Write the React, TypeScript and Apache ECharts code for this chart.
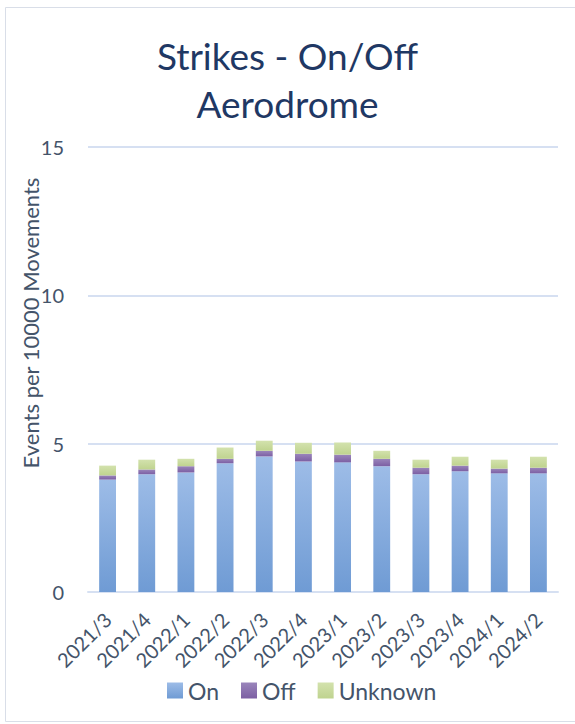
import React, { useEffect, useRef } from "react";
import * as echarts from "echarts";

const categories = ["2021/3", "2021/4", "2022/1", "2022/2", "2022/3", "2022/4", "2023/1", "2023/2", "2023/3", "2023/4", "2024/1", "2024/2"];
const onValues = [3.79, 3.97, 4.03, 4.34, 4.57, 4.40, 4.37, 4.24, 3.97, 4.07, 4.00, 4.00];
const offValues = [0.14, 0.16, 0.21, 0.15, 0.19, 0.26, 0.26, 0.25, 0.22, 0.19, 0.16, 0.19];
const unknownValues = [0.33, 0.33, 0.25, 0.38, 0.34, 0.37, 0.41, 0.27, 0.27, 0.30, 0.30, 0.37];
const seriesNames = ["On", "Off", "Unknown"];

const FONT = "Lato, 'Open Sans', sans-serif";

function grad(top: string, bottom: string) {
  return new echarts.graphic.LinearGradient(0, 0, 0, 1, [
    { offset: 0, color: top },
    { offset: 1, color: bottom },
  ]);
}

export default function App() {
  const ref = useRef<HTMLDivElement>(null);
  useEffect(() => {
    document.body.style.margin = "0";
    const chart = echarts.init(ref.current!, null, { renderer: "svg" });
    chart.setOption({
      animation: false,
      backgroundColor: "#ffffff",
      title: {
        text: "Strikes - On/Off\nAerodrome",
        left: "center",
        top: 26,
        textStyle: { fontFamily: FONT, fontSize: 37, fontWeight: "normal", color: "#1f3864", lineHeight: 48 },
      },
      graphic: [
        {
          type: "rect",
          shape: { x: 5.5, y: 7.5, width: 580, height: 714 },
          style: { fill: "none", stroke: "#d9dee8", lineWidth: 1 },
          silent: true,
        },
        {
          type: "text",
          x: 30,
          y: 323,
          rotation: Math.PI / 2,
          style: {
            text: "Events per 10000 Movements",
            fontFamily: FONT,
            fontSize: 22,
            fill: "#44546a",
            align: "center",
            verticalAlign: "middle",
          },
        },
      ],
      legend: {
        data: seriesNames,
        bottom: 17,
        left: 162,
        itemWidth: 16,
        itemHeight: 16,
        itemGap: 22,
        icon: "rect",
        textStyle: { fontFamily: FONT, fontSize: 23, color: "#44546a" },
      },
      grid: { left: 88, right: 17, top: 147, bottom: 132 },
      xAxis: {
        type: "category",
        data: categories,
        axisLine: { show: true, lineStyle: { color: "#d6e0f2", width: 2 } },
        axisTick: { show: false },
        axisLabel: { rotate: 45, fontFamily: FONT, fontSize: 20, color: "#44546a", margin: 24, interval: 0 },
      },
      yAxis: {
        type: "value",
        min: 0,
        max: 15,
        interval: 5,
        axisLine: { show: false },
        axisTick: { show: false },
        splitLine: { lineStyle: { color: "#d6e0f2", width: 2 } },
        axisLabel: { fontFamily: FONT, fontSize: 20, color: "#44546a", margin: 24 },
      },
      series: [
        {
          name: "On",
          type: "bar",
          stack: "s",
          data: onValues,
          barWidth: "43%",
          itemStyle: { color: grad("#9dbce7", "#6f9bd4") },
        },
        {
          name: "Off",
          type: "bar",
          stack: "s",
          data: offValues,
          itemStyle: { color: grad("#9a85bb", "#7c5fa3") },
        },
        {
          name: "Unknown",
          type: "bar",
          stack: "s",
          data: unknownValues,
          itemStyle: { color: grad("#d3e2ad", "#bfd38f") },
        },
      ],
    });
    return () => chart.dispose();
  }, []);
  return <div ref={ref} style={{ width: 575, height: 724 }} />;
}
